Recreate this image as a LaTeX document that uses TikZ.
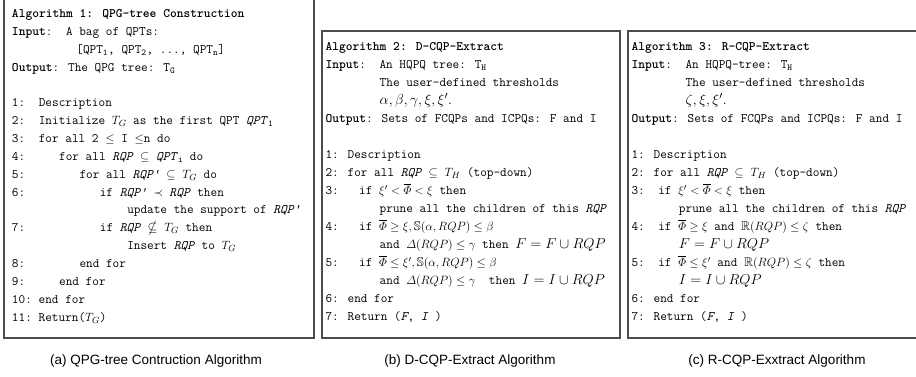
\documentclass[tikz,border=0pt]{standalone}
\usepackage{amsmath,amssymb}
\usepackage{fontspec}
\newfontfamily\capfont{Liberation Sans}
% one monospace character cell
\newdimen\cwid \cwid=6.78pt
\newcommand\indentchars[1]{\hspace*{#1\cwid}}
\newcommand\rqp{\textit{RQP}}
\newcommand\rqpp{\textit{RQP'}}
\newcommand\mathL[1]{{\fontsize{15}{18}\selectfont$#1$}}
\newcommand\condm[1]{{\fontsize{12.6}{15}\selectfont$#1$}}
\tikzset{
  ln/.style={anchor=base west, inner sep=0pt, outer sep=0pt,
    font=\ttfamily\fontsize{12.9}{15}\selectfont},
  algbox/.style={draw=black!70, line width=1.3pt},
  captext/.style={anchor=center, inner sep=0pt, font=\capfont\fontsize{13.5}{16}\selectfont}
}
\begin{document}
\begin{tikzpicture}[x=1pt,y=-1pt]
\fill[white] (0,0) rectangle (916,376);
\clip (0,0) rectangle (916,376);
\useasboundingbox (0,0) rectangle (916,376);

% frames
\draw[algbox] (4,-5) rectangle (314,338);
\draw[algbox] (322,31) rectangle (620,338);
\draw[algbox] (628,31) rectangle (940,338);

% ---------- Algorithm 1 ----------
\def\xa{12}
\node[ln] (a0) at (\xa,17.5) {\textbf{Algorithm 1: QPG-tree Construction}};
\node[ln] (a1) at (\xa,35.5) {\textbf{Input}:\indentchars{2}A bag of QPTs:};
\node[ln] (a2) at (\xa,53.5) {\indentchars{9.5}[QPT\textsubscript{1}, QPT\textsubscript{2}, ..., QPT\textsubscript{n}]};
\node[ln] (a3) at (\xa,71.5) {\textbf{Output}: The QPG tree: T\textsubscript{G}};
\foreach \k/\txt in {
  0/{1:\indentchars{2}Description},
  1/{2:\indentchars{2}Initialize $T_G$ as the first QPT \textit{QPT}\textsubscript{1}},
  2/{3:\indentchars{2}for all 2 $\leq$ I $\leq$n do},
  3/{4:\indentchars{5}for all \rqp{} $\subseteq$ \textit{QPT}\textsubscript{i} do},
  4/{5:\indentchars{8}for all \rqpp{} $\subseteq$ $T_G$ do},
  5/{6:\indentchars{11}if \rqpp{} $\prec$ \rqp{} then},
  6/{\indentchars{17}update the support of \rqpp},
  7/{7:\indentchars{11}if \rqp{} $\nsubseteq$ $T_G$ then},
  8/{\indentchars{17}Insert \rqp{} to $T_G$},
  9/{8:\indentchars{8}end for},
  10/{9:\indentchars{5}end for},
  11/{10:\indentchars{1}end for},
  12/{11:\indentchars{1}Return($T_G$)}}
  \node[ln] (aline\k) at (\xa,{106.5+17.9*\k}) {\txt};

% ---------- Algorithm 2 ----------
\def\xb{325.5}
\node[ln] (b0) at (\xb,50.5) {\textbf{Algorithm 2: D-CQP-Extract}};
\node[ln] (b1) at (\xb,68.5) {\textbf{Input}:\indentchars{2}An HQPQ tree: T\textsubscript{H}};
\node[ln] (b2) at (\xb,86.5) {\indentchars{8}The user-defined thresholds};
\node[ln] (b3) at (\xb,104.5) {\indentchars{8}\mathL{\alpha, \beta, \gamma, \xi, \xi'.}};
\node[ln] (b4) at (\xb,122.5) {\textbf{Output}: Sets of FCQPs and ICPQs: F and I};
\foreach \k/\txt in {
  0/{1: Description},
  1/{2: for all \rqp{} $\subseteq$ $T_H$ (top-down)},
  2/{3:\indentchars{3}if \condm{\xi' < \overline{\varPhi} < \xi} then},
  3/{\indentchars{8}prune all the children of this \rqp},
  4/{4:\indentchars{3}if \condm{\overline{\varPhi} \geq \xi, \mathbb{S}(\alpha, RQP) \leq \beta}},
  5/{\indentchars{8}and \condm{\varDelta(RQP) \leq \gamma} then \mathL{F = F \cup RQP}},
  6/{5:\indentchars{3}if \condm{\overline{\varPhi} \leq \xi', \mathbb{S}(\alpha, RQP) \leq \beta}},
  7/{\indentchars{8}and \condm{\varDelta(RQP) \leq \gamma}\indentchars{1} then \mathL{I = I \cup RQP}},
  8/{6: end for},
  9/{7: Return (\textit{F}, \textit{I} )}}
  \node[ln] (bline\k) at (\xb,{158.5+18*\k}) {\txt};

% ---------- Algorithm 3 ----------
\def\xc{631.5}
\node[ln] (c0) at (\xc,50.5) {\textbf{Algorithm 3: R-CQP-Extract}};
\node[ln] (c1) at (\xc,68.5) {\textbf{Input}:\indentchars{2}An HQPQ-tree: T\textsubscript{H}};
\node[ln] (c2) at (\xc,86.5) {\indentchars{8}The user-defined thresholds};
\node[ln] (c3) at (\xc,104.5) {\indentchars{8}\mathL{\zeta, \xi, \xi'.}};
\node[ln] (c4) at (\xc,122.5) {\textbf{Output}: Sets of FCQPs and ICPQs: F and I};
\foreach \k/\txt in {
  0/{1: Description},
  1/{2: for all \rqp{} $\subseteq$ $T_H$ (top-down)},
  2/{3:\indentchars{2}if \condm{\xi' < \overline{\varPhi} < \xi} then},
  3/{\indentchars{7}prune all the children of this \rqp},
  4/{4:\indentchars{2}if \condm{\overline{\varPhi} \geq \xi} and \condm{\mathbb{R}(RQP) \leq \zeta} then},
  5/{\indentchars{7}\mathL{F = F \cup RQP}},
  6/{5:\indentchars{2}if \condm{\overline{\varPhi} \leq \xi'} and \condm{\mathbb{R}(RQP) \leq \zeta} then},
  7/{\indentchars{7}\mathL{I = I \cup RQP}},
  8/{6: end for},
  9/{7: Return (\textit{F}, \textit{I} )}}
  \node[ln] (cline\k) at (\xc,{158.5+18*\k}) {\txt};

% ---------- captions ----------
\node[captext] (capa) at (156,361) {(a) QPG-tree Contruction Algorithm};
\node[captext] (capb) at (470,361) {(b) D-CQP-Extract Algorithm};
\node[captext] (capc) at (777,361) {(c) R-CQP-Exxtract Algorithm};
\end{tikzpicture}
\end{document}
